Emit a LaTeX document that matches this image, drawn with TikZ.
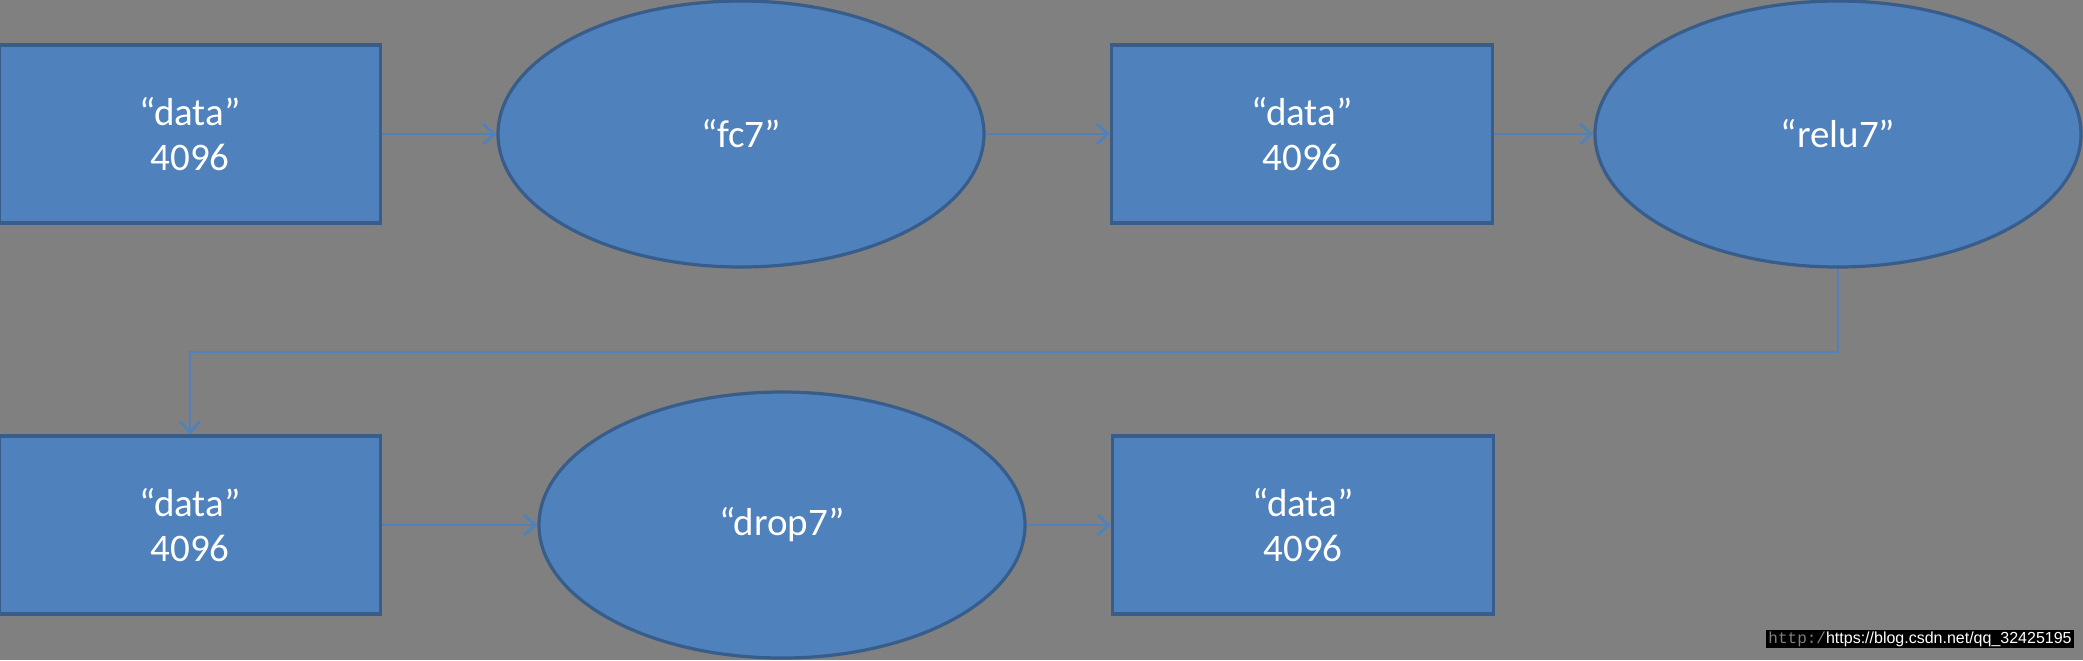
\documentclass[tikz,border=0pt]{standalone}
\usepackage{fontspec}
\setmainfont{Carlito}
\newfontfamily\wmsans{Liberation Sans}
\newfontfamily\wmmono{Liberation Mono}
\usetikzlibrary{shapes.geometric,arrows.meta}

\definecolor{bggray}{HTML}{808080}
\definecolor{layerfill}{HTML}{4F81BD}
\definecolor{layerline}{HTML}{385D8A}

\tikzset{
  blob/.style={draw=layerline, line width=1.6pt, fill=layerfill, text=white,
    minimum width=190.5pt, minimum height=89pt, inner sep=0pt, align=center,
    font=\fontsize{19.5}{22.5}\selectfont},
  layer/.style={blob, ellipse, minimum width=243pt, minimum height=133pt},
  flow/.style={draw=layerfill, line width=1.4pt,
    -{Straight Barb[length=5.5pt,width=10pt]}},
}

\begin{document}
\begin{tikzpicture}[x=0.5pt,y=-0.5pt]
\newcommand{\wrapy}{352}; % height of the line back to the second row

\fill[bggray] (0,0) rectangle (2083,660);
\useasboundingbox (0,0) rectangle (2083,660);

% first row
\node[blob]  (data1) at (190,134)  {“data”\\4096};
\node[layer] (fc7)   at (741,134)  {“fc7”};
\node[blob]  (data2) at (1302,134) {“data”\\4096};
\node[layer] (relu7) at (1838,134) {“relu7”};

% second row
\node[blob]  (data3) at (190,525)  {“data”\\4096};
\node[layer] (drop7) at (782,525)  {“drop7”};
\node[blob]  (data4) at (1303,525) {“data”\\4096};

\draw[flow] (data1) -- (fc7);
\draw[flow] (fc7) -- (data2);
\draw[flow] (data2) -- (relu7);

% wrap round
\coordinate (turnR) at (1838,\wrapy);
\coordinate (turnL) at (190,\wrapy);
\draw[flow] (relu7.south) -- (turnR) -- (turnL) -- (data3.north);
%

\draw[flow] (data3) -- (drop7);
\draw[flow] (drop7) -- (data4);

% watermark
\node[fill=black, inner sep=1pt, anchor=east, font=\fontsize{8}{8}\selectfont]
  (mark) at (2074,639)
  {\textcolor{gray}{\wmmono http:/}\textcolor{white}{\wmsans https://blog.csdn.net/qq\_32425195}};
\end{tikzpicture}
\end{document}
